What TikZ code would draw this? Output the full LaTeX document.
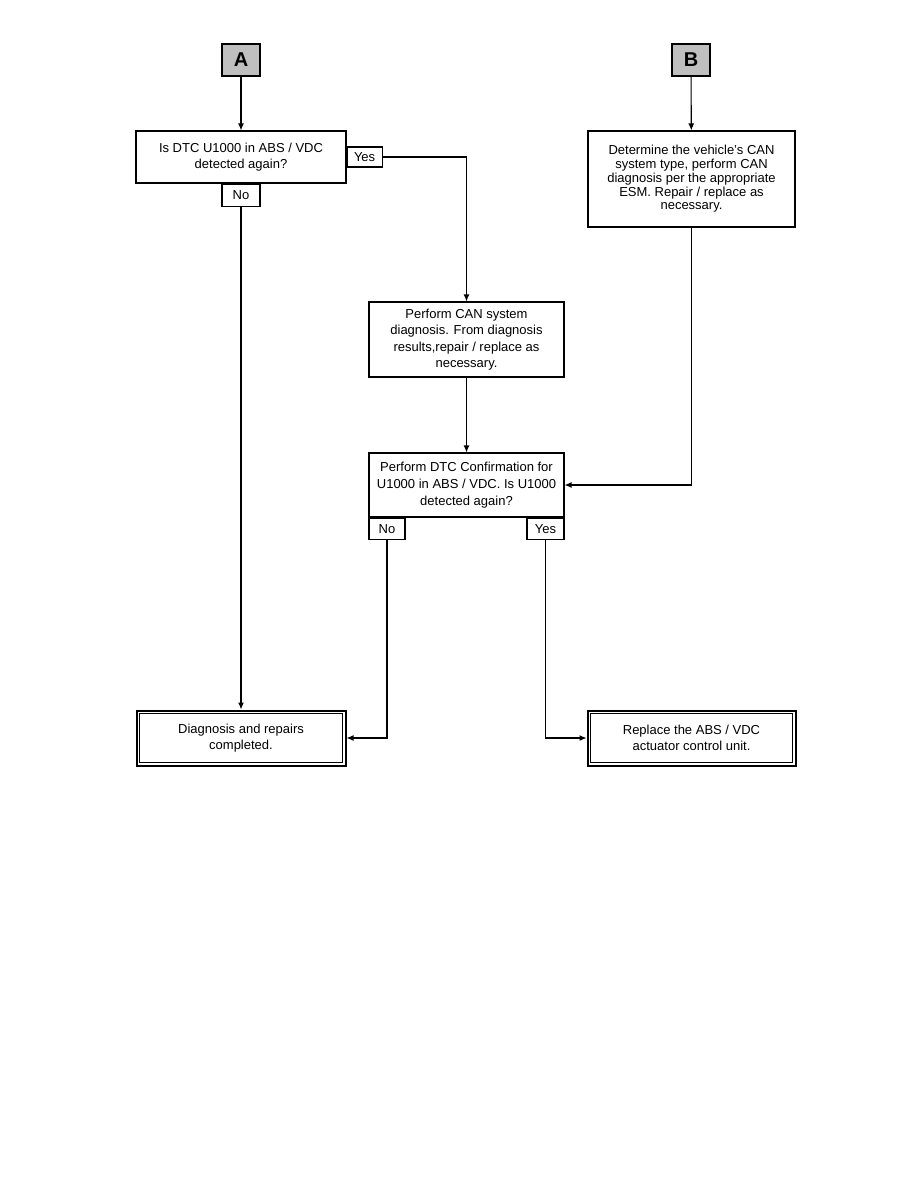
\documentclass[tikz,border=0pt]{standalone}
\usepackage{fontspec}
\setmainfont{Liberation Sans}
\usetikzlibrary{arrows.meta}

\tikzset{
  stepbox/.style={draw, line width=1.1pt, align=center, inner sep=2pt,
    font=\fontsize{13}{15.5}\selectfont},
  endbox/.style={stepbox, line width=2pt,
    path picture={\draw[line width=0.9pt]
      ([shift={(3.2pt,3.2pt)}]path picture bounding box.south west) rectangle
      ([shift={(-3.2pt,-3.2pt)}]path picture bounding box.north east);}},
  tagbox/.style={draw, line width=1.1pt, inner sep=0pt, fill=black!25,
    minimum width=38pt, minimum height=32pt, font=\fontsize{20}{20}\selectfont\bfseries},
  answer/.style={draw, line width=1.1pt, inner sep=0pt,
    minimum height=20pt, font=\fontsize{13}{13}\selectfont},
  flow/.style={line width=1.1pt, -{Latex[length=7pt,width=6pt]}}
}

\begin{document}
\begin{tikzpicture}[x=1pt,y=-1pt]
        \useasboundingbox (0,0) rectangle (918,1188);
        % entry tags
        \node[tagbox] (tagA) at (241,60) {A};
        \node[tagbox] (tagB) at (691,60) {B};

        % first question
        \node[stepbox, minimum width=210pt, minimum height=52pt] (askU) at (241,157)
            {Is DTC U1000 in ABS / VDC\\detected again?};
        \node[answer, anchor=west, minimum width=35pt] (askYes) at (askU.east) {Yes};
        \node[answer, anchor=north, minimum width=38pt, minimum height=22pt] (askNo) at (askU.south) {No};

        % CAN steps
        \node[stepbox, minimum width=207pt, minimum height=96pt,
              font=\fontsize{13}{13.8}\selectfont] (canType) at (691.5,179)
            {Determine the vehicle's CAN\\system type, perform CAN\\diagnosis per the appropriate\\ESM. Repair / replace as\\necessary.};
        \node[stepbox, minimum width=195pt, minimum height=75pt,
              font=\fontsize{13}{16.5}\selectfont] (canDiag) at (466.5,339.5)
            {Perform CAN system\\diagnosis. From diagnosis\\results,repair / replace as\\necessary.};
        \node[stepbox, minimum width=195pt, minimum height=64pt,
              font=\fontsize{13}{17}\selectfont] (confirm) at (466.5,485)
            {Perform DTC Confirmation for\\U1000 in ABS / VDC. Is U1000\\detected again?};
        \node[answer, anchor=north west, minimum width=36pt, minimum height=21pt] (confNo) at (confirm.south west) {No};
        \node[answer, anchor=north east, minimum width=37pt, minimum height=21pt] (confYes) at (confirm.south east) {Yes};

        % results
        \node[endbox, minimum width=209pt, minimum height=55pt] (done) at (241,738)
            {Diagnosis and repairs\\completed.};
        \node[endbox, minimum width=208pt, minimum height=55pt] (replace) at (691.5,738)
            {Replace the ABS / VDC\\actuator control unit.};

        % connectors
        \draw[flow] (tagA) -- (askU);
        \draw[flow] (tagB) -- (canType);
        \draw[flow] (askYes.east) -| (canDiag.north);
        \draw[flow] (askNo) -- (done);
        \draw[flow] (canDiag) -- (confirm);
        \draw[flow] (canType.south) |- (confirm.east);
        \draw[flow] (confNo.south) |- (done.east);
        \draw[flow] (confYes.south) |- (replace.west);
\end{tikzpicture}
\end{document}
